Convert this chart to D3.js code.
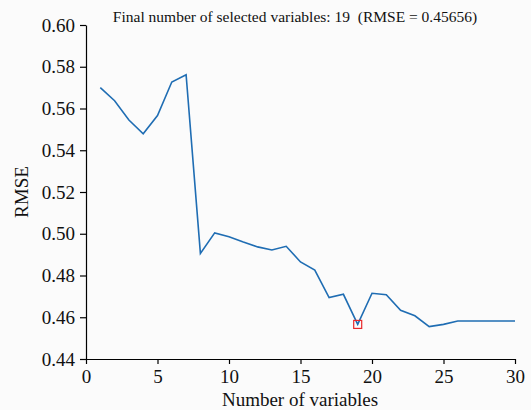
<!DOCTYPE html>
<html>
<head>
<meta charset="utf-8">
<script src="https://cdn.jsdelivr.net/npm/d3@7"></script>
<style>
html,body{margin:0;padding:0;background:#fbfbfb;}
svg{display:block;}
svg text{font-family:"Liberation Serif","Times New Roman","DejaVu Serif",serif !important;fill:#111;white-space:pre;}
</style>
</head>
<body>
<svg id="chart" width="531" height="410"></svg>
<script>
const numVars = [1,2,3,4,5,6,7,8,9,10,11,12,13,14,15,16,17,18,19,20,21,22,23,24,25,26,27,28,29,30];
const rmse = [0.5700,0.5637,0.5545,0.5479,0.5566,0.5727,0.5762,0.4906,0.5004,0.4986,0.4960,0.4937,0.4922,0.4940,0.4865,0.4826,0.4694,0.4710,0.45656,0.4715,0.4708,0.4633,0.4607,0.4555,0.4566,0.4582,0.4582,0.4582,0.4582,0.4582];
const xTicks = [0,5,10,15,20,25,30];
const yTicks = [0.44,0.46,0.48,0.50,0.52,0.54,0.56,0.58,0.60];
const selectedN = 19;
const selectedRMSE = 0.45656;
const titleText = "Final number of selected variables: 19  (RMSE = 0.45656)";

const serif = '"Liberation Serif","Times New Roman",serif';
const svg = d3.select("#chart");
const m = {left:86, right:16, top:25, bottom:51};
const W = 531, H = 410;
const x = d3.scaleLinear().domain([0,30]).range([m.left, W - m.right]);
const y = d3.scaleLinear().domain([0.44,0.60]).range([H - m.bottom, m.top]);

const xAxis = svg.append("g").attr("transform", `translate(0,${H - m.bottom})`)
  .call(d3.axisBottom(x).tickValues(xTicks).tickFormat(d3.format("d")).tickSize(5).tickSizeOuter(0));
const yAxis = svg.append("g").attr("transform", `translate(${m.left},0)`)
  .call(d3.axisLeft(y).tickValues(yTicks).tickFormat(d3.format(".2f")).tickSize(6).tickSizeOuter(0));
[xAxis, yAxis].forEach(g => {
  g.attr("font-family", serif).attr("font-size", 19);
  g.selectAll("path.domain").attr("stroke","#000").attr("stroke-width",1.2);
  g.selectAll(".tick line").attr("stroke","#000").attr("stroke-width",1.2);
  g.selectAll(".tick text").attr("font-family", serif).attr("font-size", 19).attr("fill","#111");
});
xAxis.selectAll(".tick text").attr("dy","0.95em").attr("y",6);
yAxis.selectAll(".tick text").attr("x",-11);

const line = d3.line().x((d,i) => x(numVars[i])).y(d => y(d));
svg.append("path").datum(rmse).attr("d", line)
  .attr("fill","none").attr("stroke","#1f6db3").attr("stroke-width",1.6).attr("stroke-linejoin","miter");

svg.append("rect")
  .attr("x", x(selectedN) - 4).attr("y", y(selectedRMSE) - 4)
  .attr("width", 8).attr("height", 8)
  .attr("fill","none").attr("stroke","#e8282b").attr("stroke-width",1.2);

svg.append("text").attr("x", 295).attr("y", 22).attr("text-anchor","middle")
  .attr("font-family", serif).attr("font-size", 15.5).attr("xml:space","preserve").text(titleText);

svg.append("text").attr("x", 300).attr("y", 406).attr("text-anchor","middle")
  .attr("font-family", serif).attr("font-size", 19).text("Number of variables");

svg.append("text").attr("transform", `translate(28,192) rotate(-90)`).attr("text-anchor","middle")
  .attr("font-family", serif).attr("font-size", 19).text("RMSE");
</script>
</body>
</html>
